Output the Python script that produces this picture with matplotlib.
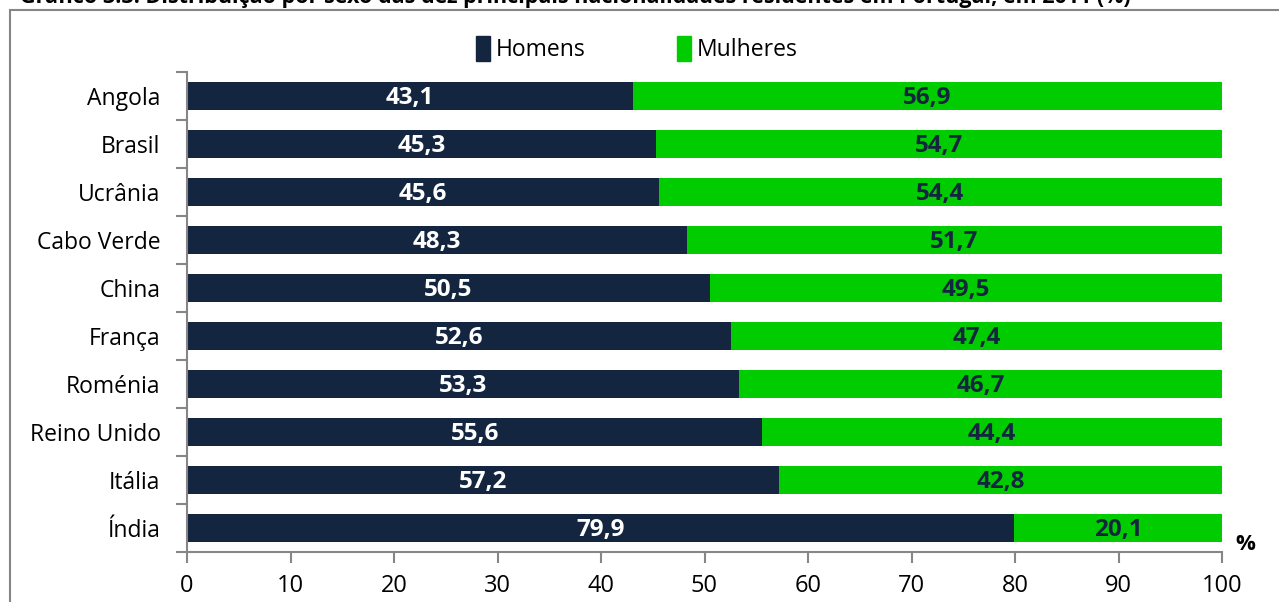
import matplotlib
matplotlib.use("Agg")
import matplotlib.pyplot as plt
from matplotlib.patches import Rectangle, Patch

plt.rcParams['font.family'] = ['Open Sans', 'DejaVu Sans']

paises = ["Angola", "Brasil", "Ucrânia", "Cabo Verde", "China", "França",
          "Roménia", "Reino Unido", "Itália", "Índia"]
homens = [43.1, 45.3, 45.6, 48.3, 50.5, 52.6, 53.3, 55.6, 57.2, 79.9]
mulheres = [56.9, 54.7, 54.4, 51.7, 49.5, 47.4, 46.7, 44.4, 42.8, 20.1]
xticks = [0, 10, 20, 30, 40, 50, 60, 70, 80, 90, 100]

navy = "#14253f"
verde = "#00cc00"
cinza = "#868686"

W, H = 1279, 602
fig = plt.figure(figsize=(W / 100, H / 100), dpi=100)

# moldura cinzenta (cortada pela imagem)
fig.patches.append(Rectangle((10 / W, -0.1), 1.2, (H - 10) / H + 0.1,
                             transform=fig.transFigure, fill=False,
                             edgecolor=cinza, linewidth=1.5))
fig.text(20 / W, 1 + 3 / H,
         "Gráfico 3.3: Distribuição por sexo das dez principais nacionalidades residentes em Portugal, em 2011 (%)",
         fontsize=15.5, fontweight="bold", va="center", ha="left", color="black")

ax = fig.add_axes([187 / W, 50 / H, (1222 - 187) / W, (552 - 72) / H])

y = list(range(len(paises)))
ax.barh(y, homens, height=0.6, color=navy, label="Homens")
ax.barh(y, mulheres, left=homens, height=0.6, color=verde, label="Mulheres")

for i in y:
    ax.text(homens[i] / 2, i + 0.05, f"{homens[i]:.1f}".replace(".", ","),
            ha="center", va="center", color="white", fontsize=17.5, fontweight="bold")
    ax.text(homens[i] + mulheres[i] / 2, i + 0.05, f"{mulheres[i]:.1f}".replace(".", ","),
            ha="center", va="center", color=navy, fontsize=17.5, fontweight="bold")

ax.set_xlim(0, 100)
ax.set_ylim(len(paises) - 0.5, -0.5)
ax.set_yticks(y)
ax.set_yticklabels(paises, fontsize=16.5)
ax.set_yticks([i - 0.5 for i in range(len(paises) + 1)], minor=True)
ax.tick_params(axis="y", which="major", length=0, pad=19)
ax.tick_params(axis="y", which="minor", length=8, width=1.5, color=cinza)
ax.set_xticks(xticks)
ax.tick_params(axis="x", length=8, width=1.5, color=cinza, labelsize=17, pad=8)

for s in ["top", "right"]:
    ax.spines[s].set_visible(False)
for s in ["left", "bottom"]:
    ax.spines[s].set_color(cinza)
    ax.spines[s].set_linewidth(1.5)

ax.text(1.023, 0.015, "%", transform=ax.transAxes, fontsize=16,
        fontweight="bold", ha="center", va="center")

handles = [Patch(color=navy, label="Homens"), Patch(color=verde, label="Mulheres")]
fig.legend(handles=handles, loc="center", bbox_to_anchor=(637 / W, 1 - 49 / H),
           ncol=2, frameon=False, fontsize=16.5, handlelength=0.6, handleheight=1.3,
           handletextpad=0.25, columnspacing=4.0)

fig.savefig("out.png", dpi=100)
